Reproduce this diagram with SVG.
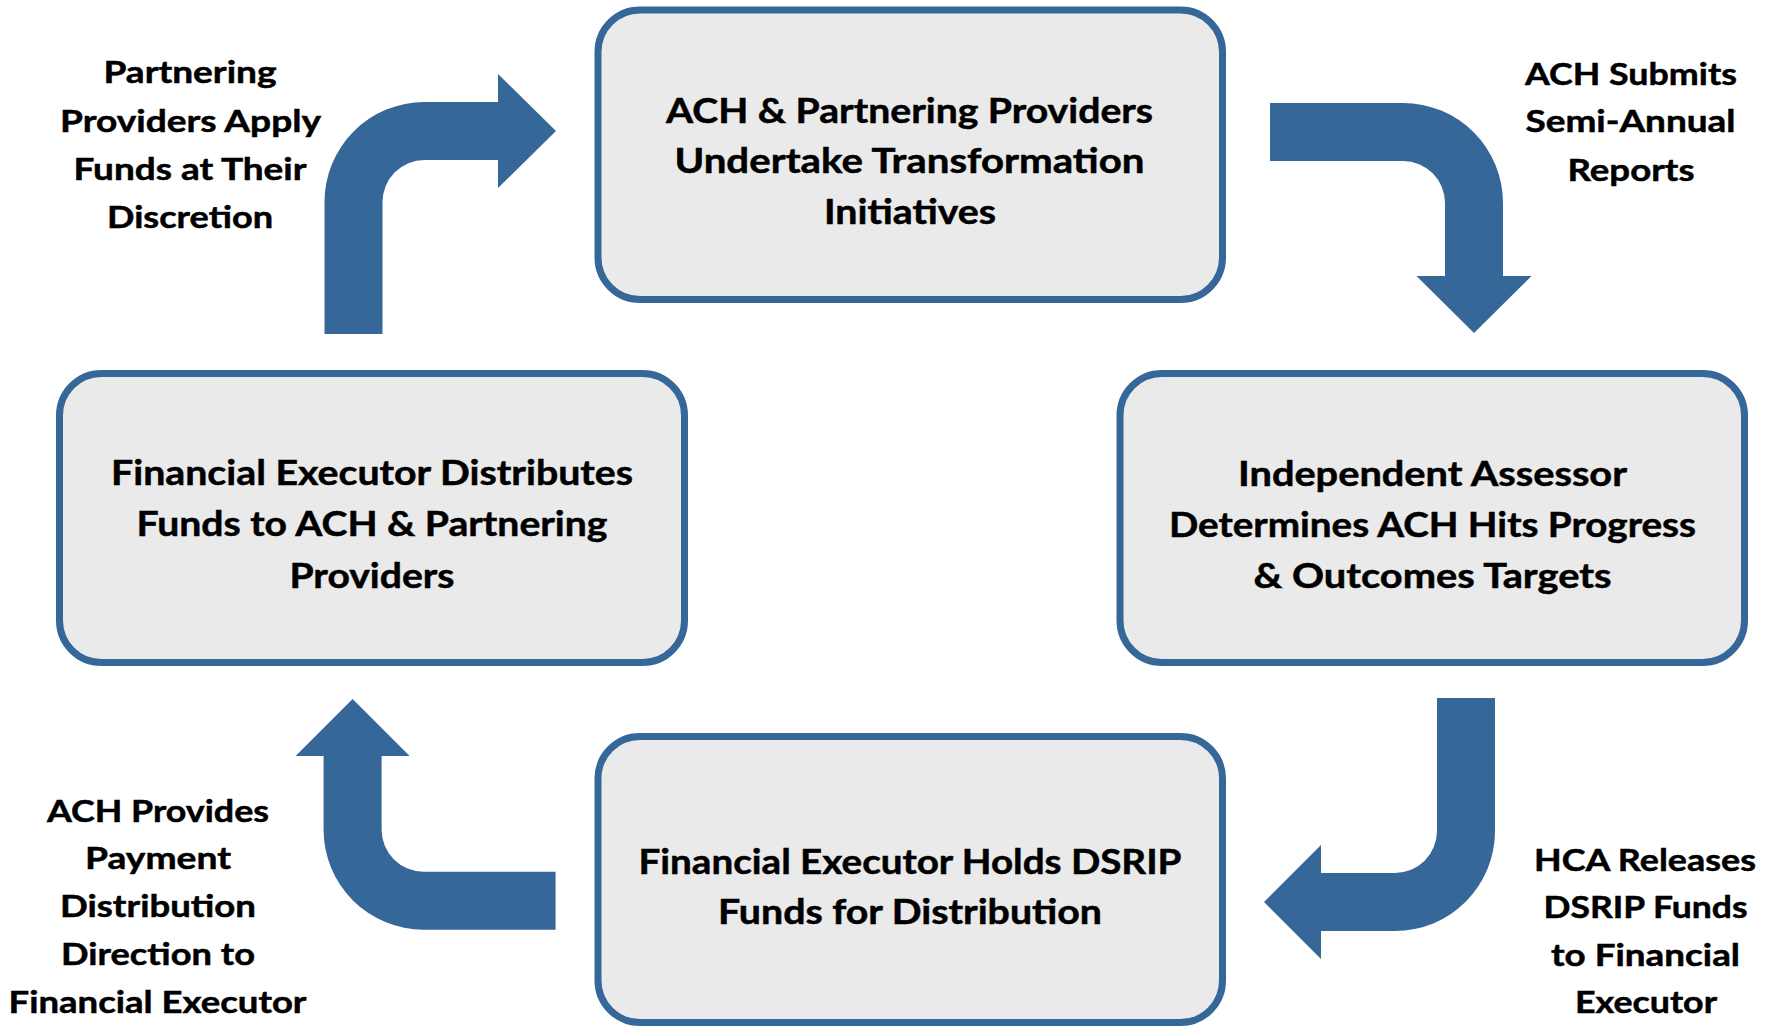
<svg xmlns="http://www.w3.org/2000/svg" width="1779" height="1027" viewBox="0 0 1779 1027">
<style>
.box{fill:#EAEAEA;stroke:#366799;stroke-width:7}
.arrow{fill:#366799}
.bt{font-family:Lato,"Open Sans","Liberation Sans",sans-serif;font-weight:700;font-size:35px;fill:#000;stroke:#000;stroke-width:0.5;text-anchor:middle}
.lt{font-family:Lato,"Open Sans","Liberation Sans",sans-serif;font-weight:700;font-size:31px;fill:#000;stroke:#000;stroke-width:0.5;text-anchor:middle}
</style>
<rect width="1779" height="1027" fill="#FFFFFF"/>
<g id="connectors">
<path id="arrow-tl" class="arrow" d="M324.5,334 L324.5,202 A100,100 0 0 1 424.5,102 L498,102 L498,74 L556,131 L498,188 L498,160 L424.5,160 A42,42 0 0 0 382.5,202 L382.5,334 Z"/>
<path id="arrow-tr" class="arrow" d="M1270,103 L1403,103 A100,100 0 0 1 1503,203 L1503,276 L1531.5,276 L1474,333 L1416.5,276 L1445,276 L1445,203 A42,42 0 0 0 1403,161 L1270,161 Z"/>
<path id="arrow-br" class="arrow" d="M1437,698 L1495,698 L1495,831 A100,100 0 0 1 1395,931 L1321,931 L1321,959 L1264,902 L1321,845 L1321,873 L1395,873 A42,42 0 0 0 1437,831 Z"/>
<path id="arrow-bl" class="arrow" d="M555.6,871.7 L423.6,871.7 A42,42 0 0 1 381.6,829.7 L381.6,756 L409.6,756 L352.6,699 L295.6,756 L323.6,756 L323.6,829.7 A100,100 0 0 0 423.6,929.7 L555.6,929.7 Z"/>
</g>
<g id="node-top">
<rect class="box" x="598" y="10" width="624.5" height="289.5" rx="42" ry="42"/>
<text class="bt" x="909.5" y="122.7" textLength="487" lengthAdjust="spacingAndGlyphs">ACH &amp; Partnering Providers</text>
<text class="bt" x="909.5" y="173.3" textLength="470" lengthAdjust="spacingAndGlyphs">Undertake Transformation</text>
<text class="bt" x="910" y="224" textLength="172" lengthAdjust="spacingAndGlyphs">Initiatives</text>
</g>
<g id="node-left">
<rect class="box" x="59.5" y="373.5" width="625" height="289" rx="42" ry="42"/>
<text class="bt" x="372" y="485" textLength="522" lengthAdjust="spacingAndGlyphs">Financial Executor Distributes</text>
<text class="bt" x="372" y="536" textLength="471" lengthAdjust="spacingAndGlyphs">Funds to ACH &amp; Partnering</text>
<text class="bt" x="372" y="587.5" textLength="165" lengthAdjust="spacingAndGlyphs">Providers</text>
</g>
<g id="node-right">
<rect class="box" x="1120" y="373.5" width="624.5" height="289" rx="42" ry="42"/>
<text class="bt" x="1432.5" y="486" textLength="389" lengthAdjust="spacingAndGlyphs">Independent Assessor</text>
<text class="bt" x="1432.5" y="536.5" textLength="527" lengthAdjust="spacingAndGlyphs">Determines ACH Hits Progress</text>
<text class="bt" x="1432.5" y="588" textLength="358" lengthAdjust="spacingAndGlyphs">&amp; Outcomes Targets</text>
</g>
<g id="node-bottom">
<rect class="box" x="598" y="736.5" width="624.5" height="286" rx="42" ry="42"/>
<text class="bt" x="910" y="874" textLength="543" lengthAdjust="spacingAndGlyphs">Financial Executor Holds DSRIP</text>
<text class="bt" x="910" y="924" textLength="384" lengthAdjust="spacingAndGlyphs">Funds for Distribution</text>
</g>
<g id="label-tl">
<text class="lt" x="190" y="83.3" textLength="173" lengthAdjust="spacingAndGlyphs">Partnering</text>
<text class="lt" x="190.5" y="132.3" textLength="261" lengthAdjust="spacingAndGlyphs">Providers Apply</text>
<text class="lt" x="190" y="180" textLength="233" lengthAdjust="spacingAndGlyphs">Funds at Their</text>
<text class="lt" x="190" y="228.3" textLength="166" lengthAdjust="spacingAndGlyphs">Discretion</text>
</g>
<g id="label-tr">
<text class="lt" x="1631" y="84.5" textLength="212" lengthAdjust="spacingAndGlyphs">ACH Submits</text>
<text class="lt" x="1630.5" y="132" textLength="210" lengthAdjust="spacingAndGlyphs">Semi-Annual</text>
<text class="lt" x="1631" y="180.5" textLength="127" lengthAdjust="spacingAndGlyphs">Reports</text>
</g>
<g id="label-bl">
<text class="lt" x="158" y="821.7" textLength="222" lengthAdjust="spacingAndGlyphs">ACH Provides</text>
<text class="lt" x="158" y="869.3" textLength="146" lengthAdjust="spacingAndGlyphs">Payment</text>
<text class="lt" x="158" y="917.3" textLength="196" lengthAdjust="spacingAndGlyphs">Distribution</text>
<text class="lt" x="158" y="965" textLength="194" lengthAdjust="spacingAndGlyphs">Direction to</text>
<text class="lt" x="157.5" y="1013.3" textLength="298" lengthAdjust="spacingAndGlyphs">Financial Executor</text>
</g>
<g id="label-br">
<text class="lt" x="1645" y="870.7" textLength="222" lengthAdjust="spacingAndGlyphs">HCA Releases</text>
<text class="lt" x="1645.5" y="918.3" textLength="204" lengthAdjust="spacingAndGlyphs">DSRIP Funds</text>
<text class="lt" x="1645.5" y="966" textLength="189" lengthAdjust="spacingAndGlyphs">to Financial</text>
<text class="lt" x="1646" y="1013.3" textLength="142" lengthAdjust="spacingAndGlyphs">Executor</text>
</g>
</svg>
